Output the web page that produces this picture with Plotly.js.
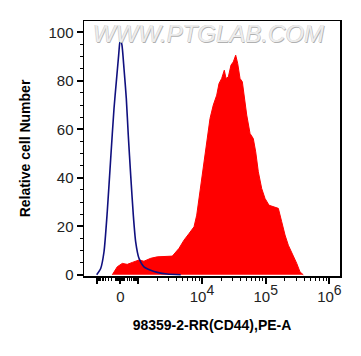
<!DOCTYPE html>
<html>
<head>
<meta charset="utf-8">
<script src="https://cdn.plot.ly/plotly-3.0.1.min.js"></script>
<style>
  html, body { margin: 0; padding: 0; background: #fff; }
  #chart { width: 361px; height: 356px; }
</style>
</head>
<body>
<div id="chart"></div>
<script>
// x positions are in display (biexponential) decade units: 10^4 -> 4, 10^5 -> 5, 0 -> ~2.72
const controlX = [2.347, 2.410, 2.462, 2.513, 2.567, 2.619, 2.655, 2.692, 2.717, 2.744, 2.776, 2.812, 2.843, 2.881, 2.922, 2.959, 3.011, 3.089, 3.195, 3.298, 3.455, 3.666];
const controlY = [0, 2.6, 9.5, 26, 48, 68.6, 79.6, 90.6, 97.5, 94.7, 85, 72.7, 57.6, 41, 24.6, 13.6, 6.8, 3.3, 1.9, 1.0, 0.3, 0];

const cd44X = [2.592, 2.670, 2.749, 2.827, 2.906, 3.011, 3.089, 3.195, 3.298, 3.430, 3.534, 3.639, 3.717, 3.796, 3.848, 3.875, 3.917, 3.969, 4.020, 4.074, 4.126, 4.177, 4.231, 4.267, 4.309, 4.350, 4.377, 4.413, 4.455, 4.491, 4.529, 4.560, 4.597, 4.633, 4.664, 4.702, 4.754, 4.805, 4.843, 4.884, 4.937, 4.989, 5.052, 5.119, 5.198, 5.251, 5.303, 5.355, 5.433, 5.487, 5.538, 5.590];
const cd44Y = [0, 3.3, 4.7, 4.3, 5.1, 6.1, 5.6, 6.8, 7.4, 7.7, 7.7, 10.9, 14.3, 17, 19.1, 19.8, 24.6, 34.2, 43.9, 53.5, 64.5, 70, 74.1, 78.9, 81, 84.4, 81, 81.6, 86.5, 87.8, 90.6, 87.2, 81, 79.6, 72.7, 65.9, 58.3, 56.2, 50.7, 42.5, 35.6, 31.5, 28.7, 28, 27.4, 21.9, 16.4, 12.2, 8.1, 4.7, 1.2, 0];

const xTickVals = [2.356, 2.72, 3.0, 4, 5, 6];
const xTickText = ['', '0', '', '10<sup><span style="font-size:14px">4</span></sup>', '10<sup><span style="font-size:14px">5</span></sup>', '10<sup><span style="font-size:14px">6</span></sup>'];
const yTickVals = [0, 20, 40, 60, 80, 100];

// minor tick positions on the biexponential axis
const zeroT = 2.72, negT = 2.356, posT = 3.0, w = 200;
function linT(v) {
  const f = Math.asinh(Math.abs(v) / w) / Math.asinh(1000 / w);
  return v >= 0 ? zeroT + (posT - zeroT) * f : zeroT - (zeroT - negT) * f;
}
const minorX = [];
[10,20,30,40,50,60,70,80,90,100,200,300,400,500,600,700,800,900].forEach(v => { minorX.push(linT(v)); minorX.push(linT(-v)); });
[3, 4, 5].forEach(n => { for (let k = 2; k <= 9; k++) minorX.push(n + Math.log10(k)); });

const font = 'Liberation Sans, Arial, sans-serif';

const traces = [
  {
    x: cd44X, y: cd44Y, type: 'scatter', mode: 'lines',
    fill: 'tozeroy', fillcolor: '#ff0000',
    line: { color: '#ff0000', width: 1 },
    hoverinfo: 'skip', showlegend: false
  },
  {
    x: controlX, y: controlY, type: 'scatter', mode: 'lines',
    line: { color: '#10107f', width: 1.6, shape: 'spline', smoothing: 0.6 },
    hoverinfo: 'skip', showlegend: false
  }
];

const layout = {
  width: 361, height: 356,
  margin: { l: 84, r: 21, t: 21, b: 80 },
  paper_bgcolor: '#ffffff', plot_bgcolor: '#ffffff',
  showlegend: false,
  xaxis: {
    range: [2.148, 6.166],
    tickmode: 'array', tickvals: xTickVals, ticktext: xTickText,
    ticks: 'outside', ticklen: 6, tickwidth: 2, tickcolor: '#000',
    minor: { tickvals: minorX, ticks: 'outside', ticklen: 3, tickwidth: 1, tickcolor: '#000' },
    showline: true, linecolor: '#000', linewidth: 1.5, mirror: true,
    showgrid: false, zeroline: false,
    tickfont: { family: font, size: 15, color: '#222' },
    title: { text: '98359-2-RR(CD44),PE-A', font: { family: font, size: 14, color: '#000', weight: 'bold' }, standoff: 16 }
  },
  yaxis: {
    range: [-0.5, 104.7],
    tickmode: 'array', tickvals: yTickVals,
    ticks: 'outside', ticklen: 6, tickwidth: 2, tickcolor: '#000',
    minor: { dtick: 5, tick0: 0, ticks: 'outside', ticklen: 3, tickwidth: 1, tickcolor: '#000' },
    showline: true, linecolor: '#000', linewidth: 1.5, mirror: true,
    showgrid: false, zeroline: false,
    tickfont: { family: font, size: 15, color: '#222' },
    title: { text: 'Relative cell Number', font: { family: font, size: 14, color: '#000', weight: 'bold' }, standoff: 14 }
  },
  annotations: [
    {
      xref: 'paper', yref: 'paper', x: 0.488, y: 0.952, xanchor: 'center', yanchor: 'middle',
      text: 'WWW.PTGLAB.COM', showarrow: false,
      font: { family: font, size: 24, color: '#ededed', style: 'italic', shadow: '0.6px 0.6px 0px #b0b0b0, -0.4px -0.4px 0px #c8c8c8' }
    }
  ]
};

Plotly.newPlot('chart', traces, layout, { displayModeBar: false, staticPlot: true });
</script>
</body>
</html>
